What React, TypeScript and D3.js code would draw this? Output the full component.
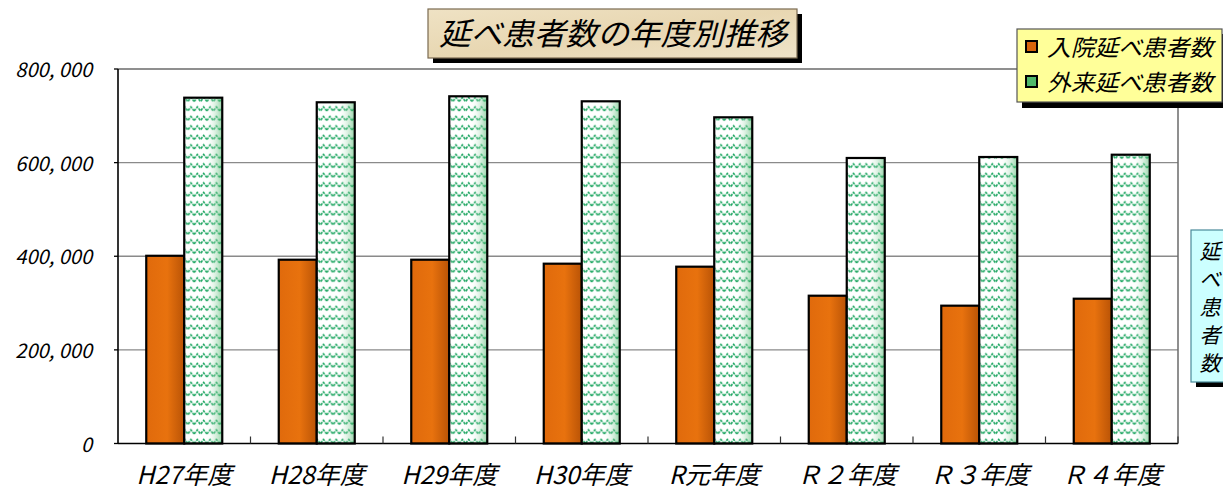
import React from "react";
import * as d3 from "d3";

const categories = ["H27年度", "H28年度", "H29年度", "H30年度", "R元年度", "Ｒ２年度", "Ｒ３年度", "Ｒ４年度"];
const seriesNames = ["入院延べ患者数", "外来延べ患者数"];
const inpatient = [401000, 392600, 392600, 384100, 377700, 315700, 294400, 309300];
const outpatient = [738700, 728900, 741700, 731000, 696800, 609900, 612000, 616900];
const yTicks = [0, 200000, 400000, 600000, 800000];
const yTickLabels = ["0", "200, 000", "400, 000", "600, 000", "800, 000"];
const titleText = "延べ患者数の年度別推移";
const sideLabel = ["延", "べ", "患", "者", "数"];

const W = 1223;
const H = 491;
const plot = { left: 118, right: 1178, top: 69, bottom: 443.5 };
const FONT = "'Noto Sans CJK JP', 'Noto Sans', sans-serif";

export default function App() {
  const x0 = d3.scaleBand<string>().domain(categories).range([plot.left, plot.right]).padding(0);
  const bw = x0.bandwidth();
  const x1 = d3.scaleBand<string>().domain(seriesNames).range([bw / 2 - 38, bw / 2 + 38]).padding(0);
  const y = d3.scaleLinear().domain([0, 800000]).range([plot.bottom, plot.top]);
  const values = [inpatient, outpatient];
  const fills = ["url(#gOrange)", "url(#pGreen)"];

  return (
    <svg width={W} height={H} style={{ position: "absolute", left: 0, top: 0, background: "#fff" }} fontFamily={FONT}>
      <defs>
        <linearGradient id="gOrange" x1="0" x2="1" y1="0" y2="0">
          <stop offset="0%" stopColor="#e06a0c" />
          <stop offset="55%" stopColor="#e8720e" />
          <stop offset="100%" stopColor="#b95306" />
        </linearGradient>
        <linearGradient id="gGreenShade" x1="0" x2="1" y1="0" y2="0">
          <stop offset="0%" stopColor="#ffffff" stopOpacity="0" />
          <stop offset="55%" stopColor="#ffffff" stopOpacity="0" />
          <stop offset="100%" stopColor="#3fb060" stopOpacity="0.55" />
        </linearGradient>
        <pattern id="pGreen" patternUnits="userSpaceOnUse" width={12.7} height={9.5} x={0} y={0}>
          <rect width={12.7} height={9.5} fill="#ffffff" />
          <path d="M0 6.5 L3.2 2.5 L6.35 6.5 L9.5 2.5 L12.7 6.5" fill="none" stroke="#16a35c" strokeWidth={1.6} strokeDasharray="2.5 1.1" />
        </pattern>
        <linearGradient id="gTitle" x1="0" x2="1" y1="0" y2="1">
          <stop offset="0%" stopColor="#efe2c4" />
          <stop offset="50%" stopColor="#e8d7b2" />
          <stop offset="100%" stopColor="#efe3c8" />
        </linearGradient>
      </defs>

      {/* gridlines */}
      {yTicks.filter((t) => t > 0 && t < 800000).map((t) => (
        <line key={t} x1={plot.left} x2={plot.right} y1={y(t)} y2={y(t)} stroke="#8a8a8a" strokeWidth={1.3} />
      ))}
      {/* frame */}
      <line x1={plot.left} x2={plot.right} y1={plot.top} y2={plot.top} stroke="#6a6a6a" strokeWidth={1.5} />
      <line x1={plot.right} x2={plot.right} y1={plot.top} y2={plot.bottom} stroke="#6a6a6a" strokeWidth={1.5} />

      {/* bars */}
      {categories.map((c, i) => (
        <g key={c} transform={`translate(${x0(c)},0)`}>
          {seriesNames.map((s, si) => {
            const v = values[si][i];
            const bx = x1(s)!;
            const by = y(v);
            const bh = plot.bottom - by;
            return (
              <g key={s}>
                <rect x={bx} y={by} width={x1.bandwidth()} height={bh} fill={fills[si]} />
                {si === 1 && <rect x={bx} y={by} width={x1.bandwidth()} height={bh} fill="url(#gGreenShade)" />}
                <rect x={bx} y={by} width={x1.bandwidth()} height={bh} fill="none" stroke="#000" strokeWidth={2.2} />
              </g>
            );
          })}
        </g>
      ))}

      {/* axes */}
      <line x1={plot.left} x2={plot.left} y1={plot.top} y2={plot.bottom} stroke="#000" strokeWidth={1.6} />
      <line x1={plot.left} x2={plot.right} y1={plot.bottom} y2={plot.bottom} stroke="#000" strokeWidth={1.6} />
      {yTicks.map((t) => (
        <line key={"yt" + t} x1={plot.left - 4} x2={plot.left} y1={y(t)} y2={y(t)} stroke="#000" strokeWidth={1.3} />
      ))}
      {categories.map((c) => (
        <line key={"xt" + c} x1={x0(c)! + bw} x2={x0(c)! + bw} y1={plot.bottom} y2={plot.bottom - 7} stroke="#333" strokeWidth={1.2} />
      ))}

      {/* y labels */}
      {yTicks.map((t, i) => (
        <text key={"yl" + t} x={92} y={y(t) + 8} textAnchor="end" fontSize={20} fontStyle="italic" fill="#000">
          {yTickLabels[i]}
        </text>
      ))}
      {/* x labels */}
      {categories.map((c) => (
        <text key={"xl" + c} x={x0(c)! + bw / 2} y={484} textAnchor="middle" fontSize={25} fontStyle="italic" fill="#000">
          {c}
        </text>
      ))}

      {/* title */}
      <rect x={433} y={14} width={369} height={49} fill="#000" />
      <rect x={428} y={9} width={369} height={49} fill="url(#gTitle)" stroke="#7a6a50" strokeWidth={1.2} />
      <text x={613} y={45} textAnchor="middle" fontSize={31} fontStyle="italic" fill="#000" textLength={348} lengthAdjust="spacingAndGlyphs">
        {titleText}
      </text>

      {/* legend */}
      <rect x={1022} y={34} width={205} height={74} fill="#000" />
      <rect x={1017} y={29} width={205} height={73} fill="#ffff99" stroke="#555" strokeWidth={1.2} />
      {seriesNames.map((s, si) => (
        <g key={"lg" + s}>
          <rect x={1026} y={41 + si * 35} width={11} height={11} fill={si === 0 ? "#d8640a" : "#4fb86a"} stroke="#000" strokeWidth={2} />
          <text x={1047} y={56 + si * 35} fontSize={23} fontStyle="italic" fill="#000" textLength={166} lengthAdjust="spacingAndGlyphs">
            {s}
          </text>
        </g>
      ))}

      {/* side label */}
      <rect x={1196} y={235} width={40} height={152} fill="#000" />
      <rect x={1191} y={230} width={40} height={152} fill="#ccffff" stroke="#4a8a9a" strokeWidth={1.2} />
      {sideLabel.map((ch, i) => (
        <text key={"sl" + i} x={1210} y={259 + i * 28} textAnchor="middle" fontSize={21} fontStyle="italic" fill="#000">
          {ch}
        </text>
      ))}
    </svg>
  );
}
